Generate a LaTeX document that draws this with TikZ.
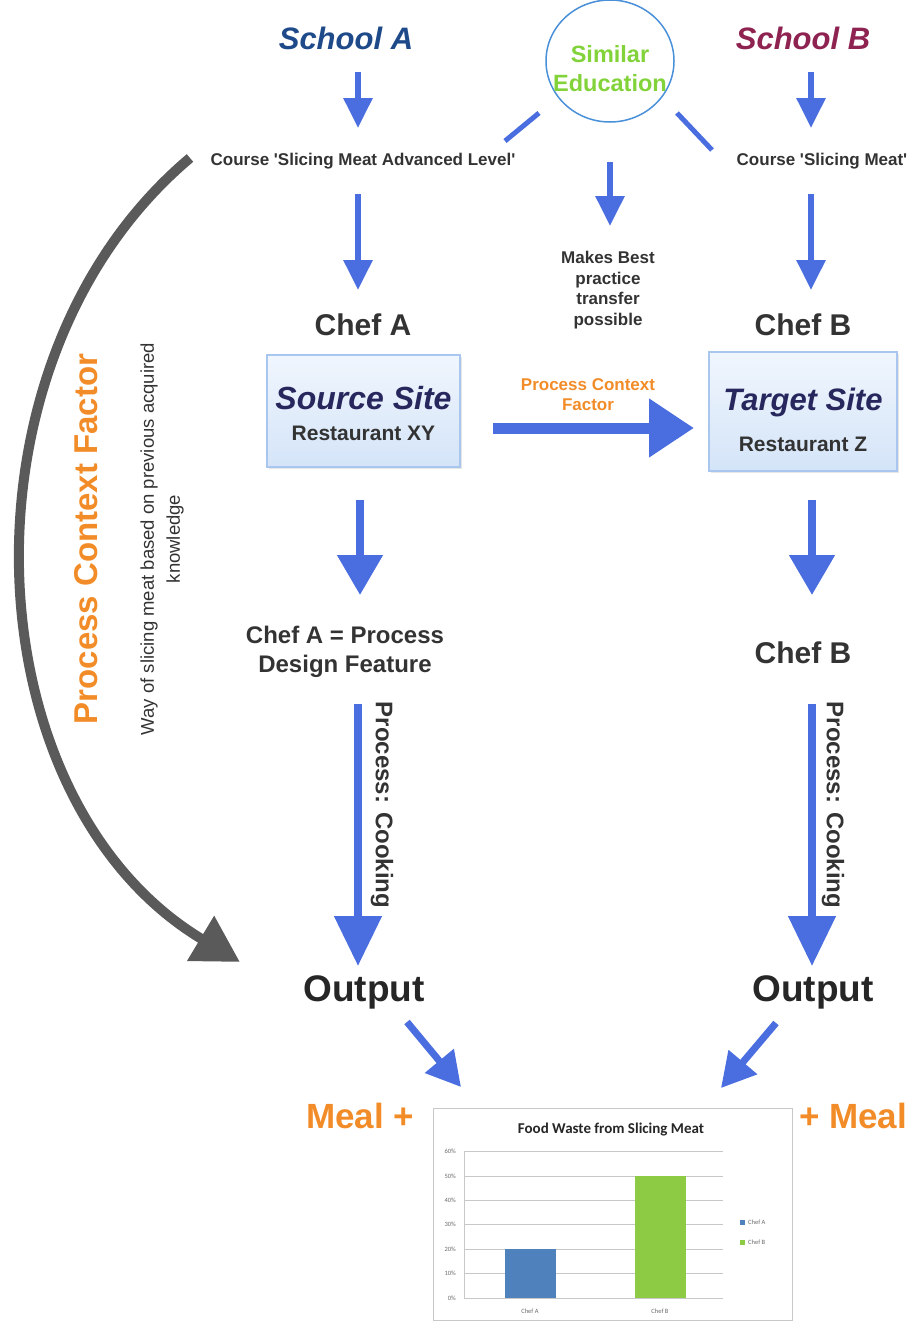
\documentclass[tikz,border=0pt]{standalone}
\usepackage{fontspec}
\setmainfont{Liberation Sans}
\newfontfamily\chartfont{Carlito}
\usetikzlibrary{arrows.meta,shadows,shapes.geometric}
\definecolor{flowblue}{HTML}{4A6EE0}
\definecolor{schoolA}{HTML}{1F4A8A}
\definecolor{schoolB}{HTML}{8E2250}
\definecolor{sitenavy}{HTML}{27275E}
\definecolor{txtgray}{HTML}{333333}
\definecolor{accent}{HTML}{F28C28}
\definecolor{edugreen}{HTML}{82D23A}
\definecolor{ringblue}{HTML}{4A90D9}
\definecolor{arcgray}{HTML}{5A5A5A}
\definecolor{boxtop}{HTML}{F0F6FD}
\definecolor{boxbot}{HTML}{D4E4F8}
\definecolor{boxline}{HTML}{A8C6EE}
\definecolor{barA}{HTML}{4F81BD}
\definecolor{barB}{HTML}{8DCB45}
\definecolor{gridgray}{HTML}{C8C8C8}
\definecolor{labgray}{HTML}{6A6A6A}
\newcommand\setfs[2]{\fontsize{#1}{#2}\selectfont}
\newcommand\sq{\textquotesingle}
\begin{document}
\begin{tikzpicture}[x=1pt,y=-1pt,
  lbl/.style={inner sep=0pt,align=center,text=txtgray},
  smallarrow/.style={draw=flowblue,line width=6pt,-{Triangle[length=30pt,width=28pt]}},
  midarrow/.style={draw=flowblue,line width=8pt,-{Triangle[length=40pt,width=44pt]}},
  longarrow/.style={draw=flowblue,line width=8pt,-{Triangle[length=50pt,width=46pt]}},
  widearrow/.style={draw=flowblue,line width=11pt,-{Triangle[length=45pt,width=56pt]}},
  diagarrow/.style={draw=flowblue,line width=7pt,-{Triangle[length=34pt,width=36pt]}},
  spoke/.style={draw=flowblue,line width=5pt},
  sitebox/.style={draw=boxline,line width=1.5pt,top color=boxtop,bottom color=boxbot,
    drop shadow={shadow xshift=2pt,shadow yshift=-2pt,opacity=0.2}},
  grid/.style={draw=gridgray,line width=0.8pt},
  ticklab/.style={inner sep=0pt,text=labgray,font=\chartfont\setfs{6.5}{8}},
]
\useasboundingbox (0,0) rectangle (914,1323);

% ---- schools and courses ----
\node[lbl,text=schoolA,font=\setfs{31}{36}\bfseries\itshape] (schA) at (346,38) {School A};
\node[lbl,text=schoolB,font=\setfs{31}{36}\bfseries\itshape] (schB) at (803,38) {School B};
\node[lbl,font=\setfs{17}{20}\bfseries] (crsA) at (363,161) {Course \sq Slicing Meat Advanced Level\sq};
\node[lbl,font=\setfs{17}{20}\bfseries] (crsB) at (822,161) {Course \sq Slicing Meat\sq};

% ---- shared education ----
\node[draw=ringblue,line width=1.5pt,ellipse,minimum width=128pt,minimum height=122pt,inner sep=0pt] (edu) at (610,61) {};
\node[lbl,text=edugreen,font=\setfs{23.5}{29}\bfseries] (eduTxt) at (610,69) {Similar\\Education};
\node[lbl,font=\setfs{17}{20.5}\bfseries] (best) at (608,290) {Makes Best\\practice\\transfer\\possible};

\coordinate (spLa) at (539,113); \coordinate (spLb) at (505,141);
\coordinate (spRa) at (677,113); \coordinate (spRb) at (712,150);
\draw[spoke] (spLa) -- (spLb);
\draw[spoke] (spRa) -- (spRb);
\coordinate (eduS) at (610,162); \coordinate (bestN) at (610,226);
\draw[smallarrow] (eduS) -- (bestN);

% ---- arrows down to the chefs ----
\coordinate (a1s) at (358,72);  \coordinate (a1e) at (358,128);
\coordinate (b1s) at (811,72);  \coordinate (b1e) at (811,128);
\coordinate (a2s) at (358,194); \coordinate (a2e) at (358,290);
\coordinate (b2s) at (811,194); \coordinate (b2e) at (811,290);
\draw[smallarrow] (a1s) -- (a1e);
\draw[smallarrow] (b1s) -- (b1e);
\draw[smallarrow] (a2s) -- (a2e);
\draw[smallarrow] (b2s) -- (b2e);

\node[lbl,font=\setfs{30}{36}\bfseries] (chefA) at (363,325) {Chef A};
\node[lbl,font=\setfs{30}{36}\bfseries] (chefB) at (803,325) {Chef B};

% ---- sites ----
\node[sitebox,minimum width=193pt,minimum height=112pt] (srcBox) at (363.5,411) {};
\node[lbl,text=sitenavy,font=\setfs{32}{36}\bfseries\itshape] (srcTitle) at (363.5,398) {Source Site};
\node[lbl,font=\setfs{21}{25}\bfseries] (srcSub) at (363.5,433) {Restaurant XY};

\node[sitebox,minimum width=188pt,minimum height=119pt] (tgtBox) at (803,411.5) {};
\node[lbl,text=sitenavy,font=\setfs{31}{36}\bfseries\itshape] (tgtTitle) at (803,402) {Target Site};
\node[lbl,font=\setfs{21}{25}\bfseries] (tgtSub) at (803,444) {Restaurant Z};

\node[lbl,text=accent,font=\setfs{17}{20}\bfseries] (pcf) at (588,395) {Process Context\\Factor};
\coordinate (hs) at (493,428); \coordinate (he) at (694,428);
\draw[widearrow] (hs) -- (he);

% ---- below the sites ----
\coordinate (a3s) at (360,500); \coordinate (a3e) at (360,595);
\coordinate (b3s) at (812,500); \coordinate (b3e) at (812,595);
\draw[midarrow] (a3s) -- (a3e);
\draw[midarrow] (b3s) -- (b3e);

\node[lbl,font=\setfs{24}{29}\bfseries] (feat) at (345,652) {Chef A = Process\\Design Feature};
\node[lbl,font=\setfs{30}{36}\bfseries] (chefB2) at (803,653) {Chef B};

\coordinate (a4s) at (358,704); \coordinate (a4e) at (358,966);
\coordinate (b4s) at (812,704); \coordinate (b4e) at (812,966);
\draw[longarrow] (a4s) -- (a4e);
\draw[longarrow] (b4s) -- (b4e);
\node[lbl,rotate=-90,font=\setfs{24}{28}\bfseries] (cookA) at (382,805) {Process: Cooking};
\node[lbl,rotate=-90,font=\setfs{24}{28}\bfseries] (cookB) at (833,805) {Process: Cooking};

\node[lbl,text=black!85,font=\setfs{37}{42}\bfseries] (outA) at (364,992) {Output};
\node[lbl,text=black!85,font=\setfs{37}{42}\bfseries] (outB) at (813,992) {Output};

\coordinate (dAs) at (407,1022); \coordinate (dAe) at (461,1087);
\coordinate (dBs) at (776,1023); \coordinate (dBe) at (721,1088);
\draw[diagarrow] (dAs) -- (dAe);
\draw[diagarrow] (dBs) -- (dBe);

% ---- left side: context factor ----
\coordinate (arcS) at (190,158); \coordinate (arcE) at (240,962);
\draw[draw=arcgray,line width=10pt,-{Triangle[length=46pt,width=50pt]}]
  (arcS) .. controls (-50,360) and (-30,800) .. (arcE);
\node[lbl,rotate=90,text=accent,font=\setfs{33}{38}\bfseries] (pcfBig) at (86,539) {Process Context Factor};
\node[lbl,rotate=90,font=\setfs{18.5}{26}] (way) at (162,539) {Way of slicing meat based on previous acquired\\knowledge};

% ---- chart ----
\node[draw=gridgray,line width=1pt,fill=white,minimum width=359pt,minimum height=212pt,inner sep=0pt] (chart) at (612.5,1214) {};
\node[inner sep=0pt,font=\chartfont\setfs{15}{18}\bfseries,text=black!85] (chTitle) at (611,1129) {Food Waste from Slicing Meat};
\foreach \v/\yy in {0/1298,10/1273,20/1249,30/1224,40/1200,50/1176,60/1151}{
  \draw[grid] (464,\yy) -- (723,\yy);
  \node[ticklab,anchor=east] (tick\v) at (456,\yy) {\v\%};
}
\draw[grid] (464,1151) -- (464,1298);
\fill[barA] (505,1249) rectangle (556,1298);
\fill[barB] (635,1176) rectangle (686,1298);
\node[ticklab] (xA) at (530,1311) {Chef A};
\node[ticklab] (xB) at (660,1311) {Chef B};
\fill[barA] (740,1220) rectangle (745,1225);
\fill[barB] (740,1240) rectangle (745,1245);
\node[ticklab,anchor=west] (legA) at (748,1222.5) {Chef A};
\node[ticklab,anchor=west] (legB) at (748,1242.5) {Chef B};

% ---- meal labels beside the chart ----
\node[lbl,text=accent,font=\setfs{35}{40}\bfseries] (mealA) at (360,1116) {Meal +};
\node[lbl,text=accent,font=\setfs{35}{40}\bfseries] (mealB) at (853,1116) {+ Meal};
\end{tikzpicture}
\end{document}
